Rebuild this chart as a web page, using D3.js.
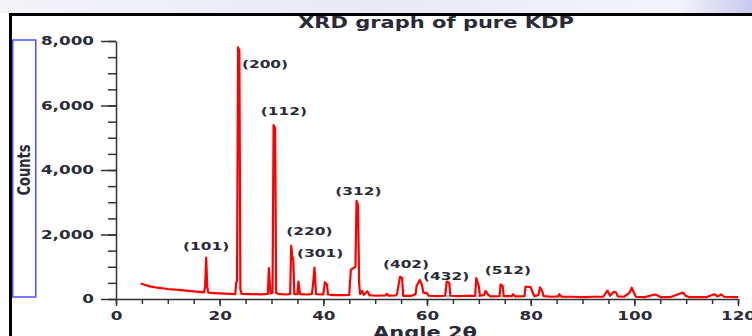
<!DOCTYPE html>
<html><head><meta charset="utf-8">
<script src="https://cdn.jsdelivr.net/npm/d3@7"></script>
<style>
html,body{margin:0;padding:0;background:#fff;}
svg{display:block;}
text{font-family:"DejaVu Sans",Verdana,sans-serif;font-weight:bold;fill:#2b2b38;}
</style></head>
<body>
<svg id="c" width="752" height="336"></svg>
<script>
// ---- data ----
const angle = [4.8,5.5,6.5,8,10,12,14,16,17.0,17.2,17.4,17.6,17.8,19,21,23.0,23.2,23.35,23.55,23.8,24.0,24.2,26,28,29.3,29.5,29.8,30.2,30.4,30.7,30.9,31.5,33,33.6,33.8,34.0,34.2,34.4,35.0,35.2,35.5,37,37.8,38.0,38.3,38.6,40.0,40.3,40.7,40.9,42,44,45.0,45.3,45.8,46.2,46.4,46.7,46.9,47.1,47.5,47.8,48.5,48.9,50,52,52.3,52.6,54.0,54.2,54.8,55.2,55.4,57,57.8,58.0,58.6,59.0,59.3,60,60.3,62,63.5,63.8,64.3,64.5,66,68,69.3,69.5,70.0,70.2,71.0,71.3,71.7,72.2,74.0,74.2,74.6,74.8,76.4,76.6,77,78.8,79.0,80.0,80.4,80.7,81.5,81.8,82.2,82.5,84,85.3,85.5,86,88,90,92,94,94.8,95.3,96.0,96.5,96.8,98,99.1,99.5,99.9,100.3,102,104,104.6,105,107,109.4,109.9,110.5,112,114,115.4,116,116.8,117.3,120];
const counts = [480,440,390,350,310,280,250,220,205,400,1280,380,200,185,165,150,520,560,7805,7700,300,160,150,145,160,960,180,190,5395,5300,190,150,140,160,1650,1350,1200,150,150,540,150,140,160,430,970,150,140,520,440,140,120,120,130,900,960,1000,3040,2900,500,150,250,130,240,120,100,110,160,100,110,150,690,650,100,100,150,400,590,450,200,180,100,90,100,540,500,100,90,100,100,650,400,100,120,250,150,80,90,455,400,90,90,150,80,90,380,370,200,90,120,360,250,90,70,80,150,70,70,60,70,70,260,100,220,200,80,70,200,350,200,70,60,140,100,60,60,200,100,60,60,60,150,80,140,70,60];
const labelText = ["(101)","(200)","(112)","(220)","(301)","(312)","(402)","(432)","(512)"];
const labelAngle = [17.4,28.75,32.4,37.3,39.4,46.75,55.95,63.7,75.6];
const labelCount = [1622,7287,5829,2087,1426,3327,1085,691,877];
const xMajor = [0,20,40,60,80,100,120];
const yMajor = [0,2000,4000,6000,8000];
const title = "XRD graph of pure KDP";
const xTitle = "Angle  2θ";
const yTitle = "Counts";

// ---- drawing ----
const SX = 1.4;
const svg = d3.select("#c");
const defs = svg.append("defs");
const g1 = defs.append("linearGradient").attr("id","bg");
g1.append("stop").attr("offset","0").attr("stop-color","#f3f3f8");
g1.append("stop").attr("offset","0.5").attr("stop-color","#e9e9f7");
g1.append("stop").attr("offset","0.9").attr("stop-color","#f4f4fb");
g1.append("stop").attr("offset","1").attr("stop-color","#c9c9ef");
svg.append("rect").attr("x",0).attr("y",0).attr("width",752).attr("height",13).attr("fill","url(#bg)");
svg.append("rect").attr("x",9).attr("y",13).attr("width",743).attr("height",3).attr("fill","#000");
svg.append("rect").attr("x",9).attr("y",13).attr("width",3).attr("height",323).attr("fill","#000");
svg.append("rect").attr("x",12.75).attr("y",40).attr("width",23).attr("height",257)
  .attr("fill","none").attr("stroke","#5050ff").attr("stroke-width",1.5);

const x = d3.scaleLinear().domain([0,120]).range([116,738]);
const y = d3.scaleLinear().domain([0,8000]).range([299,41]);

function styleAxis(g){
  g.selectAll("path,line").attr("stroke","#333").attr("stroke-width",1.5);
}
// minor ticks
svg.append("g").attr("transform","translate(116,0)")
  .call(d3.axisLeft(y).tickValues(d3.range(0,8001,500)).tickSize(8).tickSizeOuter(0).tickFormat(""))
  .call(styleAxis).call(g=>g.select(".domain").remove());
svg.append("g").attr("transform","translate(0,299)")
  .call(d3.axisBottom(x).tickValues(d3.range(0,121,5)).tickSize(5).tickSizeOuter(0).tickFormat(""))
  .call(styleAxis).call(g=>g.select(".domain").remove());
// major
const ya = svg.append("g").attr("transform","translate(116,0)")
  .call(d3.axisLeft(y).tickValues(yMajor).tickSize(15).tickSizeOuter(0).tickPadding(7).tickFormat(d3.format(",")))
  .call(styleAxis);
ya.selectAll("text").attr("font-size",12).attr("font-family",null).attr("fill","#2b2b38")
  .attr("x",-22/SX).attr("transform",`scale(${SX},1)`);
const xa = svg.append("g").attr("transform","translate(0,299)")
  .call(d3.axisBottom(x).tickValues(xMajor).tickSize(7).tickSizeOuter(0).tickPadding(5))
  .call(styleAxis);
xa.selectAll("text").attr("font-size",12).attr("font-family",null).attr("fill","#2b2b38")
  .attr("transform",`scale(${SX},1)`);

// series
const pts = angle.map((a,i)=>[a,counts[i]]);
svg.append("path").datum(pts)
  .attr("d",d3.line().x(d=>x(d[0])).y(d=>y(d[1])))
  .attr("fill","none").attr("stroke","#ff0000").attr("stroke-width",2.2).attr("stroke-linejoin","round");

// peak labels
labelText.forEach((t,i)=>{
  svg.append("text").text(t).attr("font-size",11).attr("text-anchor","middle")
    .attr("dominant-baseline","central")
    .attr("transform",`translate(${x(labelAngle[i])},${y(labelCount[i])}) scale(${SX},1)`);
});

// titles
svg.append("text").text(title).attr("font-size",15).attr("text-anchor","middle").attr("fill","#111")
  .attr("transform",`translate(436,28) scale(${SX},1)`);
svg.append("text").text(xTitle).attr("font-size",15).attr("text-anchor","middle").attr("fill","#111")
  .attr("transform",`translate(425,337.5) scale(${SX},1)`);
svg.append("text").text(yTitle).attr("font-size",13).attr("text-anchor","middle").attr("fill","#111")
  .attr("font-family","DejaVu Sans Condensed")
  .attr("transform",`translate(30,170) scale(1.4,1) rotate(-90)`);
</script>
</body></html>
